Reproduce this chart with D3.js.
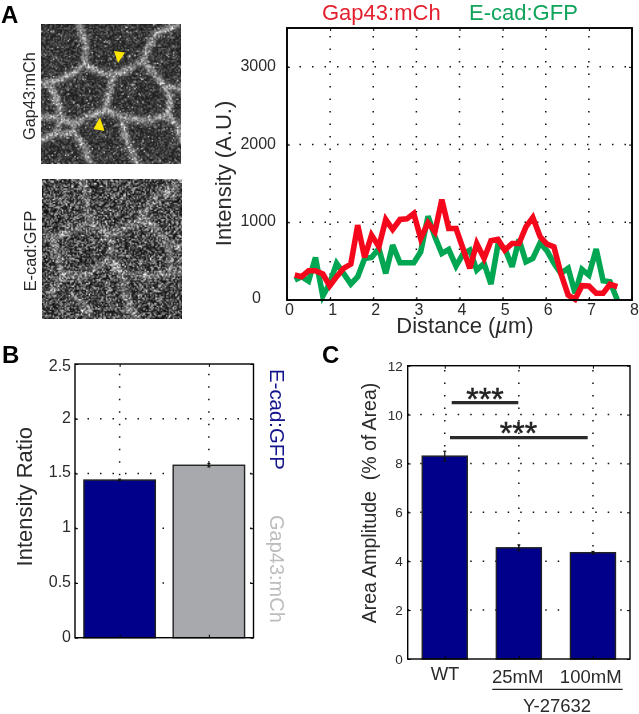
<!DOCTYPE html>
<html><head><meta charset="utf-8">
<script src="https://cdn.jsdelivr.net/npm/d3@7"></script>
<style>
html,body{margin:0;padding:0;background:#fff;overflow:hidden}
#stage{position:relative;width:639px;height:714px}
canvas{position:absolute}
svg{position:absolute;left:0;top:0;filter:blur(0.3px)}
text{font-family:"Liberation Sans",Arial,sans-serif;fill:#2b2b2b}
</style></head><body><div id="stage"></div>
<script>
// ---- Panel A values
const distance=[0.18,0.34,0.50,0.66,0.83,0.99,1.15,1.31,1.48,1.64,1.80,1.96,2.13,2.29,2.45,2.62,2.78,2.94,3.10,3.27,3.43,3.59,3.75,3.92,4.08,4.24,4.40,4.57,4.73,4.89,5.05,5.22,5.38,5.54,5.70,5.87,6.03,6.19,6.35,6.52,6.68,6.84,7.00,7.17,7.33,7.49,7.66];
const gap43=[321,300,377,377,334,180,300,407,462,963,548,835,685,1036,907,1036,1044,1113,792,993,877,1292,920,920,663,407,727,535,762,779,642,727,727,941,1061,813,719,685,342,64,10,184,180,86,86,201,171];
const ecad=[257,300,244,548,51,214,471,342,205,300,535,548,663,342,706,479,479,479,620,1078,813,599,650,436,590,642,385,471,205,706,663,428,779,492,535,736,633,471,342,407,86,394,321,655,248,235,0];
const aXTicks=[0,1,2,3,4,5,6,7,8];
const aYTicks=[0,1000,2000,3000];
// ---- Panel B values
const ratioNames=["E-cad:GFP","Gap43:mCh"];
const ratioValues=[1.44,1.575];
const ratioErrors=[0.008,0.015];
const bYTicks=[0,0.5,1,1.5,2,2.5];
// ---- Panel C values
const doseNames=["WT","25mM","100mM"];
const amplitude=[8.3,4.55,4.35];
const amplitudeErr=[0.2,0.12,0.05];
const cYTicks=[0,2,4,6,8,10,12];
// ---- Micrograph outlines (crop coordinates)
const edgesTop=[
 [[130,15],[150,70],[150,130],[125,150],[70,180],[20,188]],
 [[150,135],[190,155],[230,165]],
 [[360,40],[335,85],[320,122],[270,150],[235,165],[215,235],[210,270],[150,290],[115,310],[60,290],[20,290]],
 [[210,270],[260,290],[330,300],[395,285],[405,235],[385,195],[320,122]],
 [[385,195],[437,210]],[[395,285],[420,310],[437,360]],
 [[40,190],[65,240],[80,290],[60,340],[20,355]],
 [[115,310],[115,335],[80,340]],[[115,330],[150,390],[165,430]],
 [[260,290],[265,340],[305,430]],[[360,40],[420,15]]];
const edgesBottom=[
 [[145,15],[155,90],[165,140],[130,160],[80,175],[22,190]],
 [[165,145],[210,170],[230,200],[225,240],[200,265]],
 [[350,70],[320,125],[270,160],[220,175]],
 [[320,125],[365,165],[395,205],[440,220]],
 [[200,265],[150,300],[80,300]],
 [[230,255],[260,295],[330,300],[400,295],[440,285]],
 [[400,295],[405,250],[395,205]],
 [[50,190],[70,255],[80,300],[50,350]],
 [[260,295],[265,340],[300,430]],
 [[110,360],[150,390],[170,430]],
 [[350,70],[440,20]]];

const stage=d3.select("#stage");
function micrograph(left,top,size,edges,opt){
  const N=105,off=document.createElement("canvas");off.width=off.height=N;
  const c=off.getContext("2d"),img=c.createImageData(N,N);
  let s=opt.seed;const rnd=()=>{s=(s*1664525+1013904223)>>>0;return ((s>>>8)&0xffff)/65535;};
  const segs=[];edges.forEach(l=>d3.pairs(l).forEach(p=>segs.push(p)));
  for(let j=0;j<N;j++)for(let i=0;i<N;i++){
    let dmin=1e9;
    segs.forEach(([a,b])=>{
      const ax=(a[0]-opt.ox)/419*N,ay=(a[1]-13)/419*N,bx=(b[0]-opt.ox)/419*N,by=(b[1]-13)/419*N;
      const dx=bx-ax,dy=by-ay;let t=((i-ax)*dx+(j-ay)*dy)/(dx*dx+dy*dy);t=Math.max(0,Math.min(1,t));
      const d=Math.hypot(i-ax-t*dx,j-ay-t*dy);if(d<dmin)dmin=d;});
    const n=rnd(),n2=rnd();
    let v=opt.base+opt.amp*n*n+opt.spark*(n2>0.965?1:0);
    v+=opt.edge*Math.exp(-dmin*dmin/(2*opt.sigma*opt.sigma))*(0.35+1.1*rnd());
    v=Math.min(255,v);const k=(i+j*N)*4;
    img.data[k]=img.data[k+1]=img.data[k+2]=v;img.data[k+3]=255;
  }
  c.putImageData(img,0,0);
  const cv=stage.append("canvas").attr("width",size).attr("height",size)
    .style("left",left+"px").style("top",top+"px").node();
  const g=cv.getContext("2d");g.imageSmoothingEnabled=true;g.drawImage(off,0,0,size,size);
}
micrograph(41,24,140,edgesTop,{seed:7,base:30,amp:85,spark:120,edge:105,sigma:1.9,ox:18});
micrograph(42,179,140,edgesBottom,{seed:91,base:16,amp:175,spark:120,edge:62,sigma:2.1,ox:22});

const svg=stage.append("svg").attr("width",639).attr("height",714);
const txt=(x,y,s,size,o={})=>{const t=svg.append("text").attr("transform",`translate(${x},${y}) rotate(${o.rot||0})`)
  .attr("text-anchor",o.anchor||"middle").style("font-size",size+"px").text(s);
  if(o.fill)t.style("fill",o.fill);if(o.weight)t.style("font-weight",o.weight);return t;};

// yellow arrowheads on the top micrograph
svg.selectAll("polygon.arrow").data([[[114,51],[125,52.5],[118,63]],[[100,117.5],[104.5,131],[93.5,129]]])
  .join("polygon").attr("points",d=>d.join(" ")).attr("fill","#ffe600");

txt(1,23,"A",24,{anchor:"start",weight:"bold",fill:"#000"});
txt(2,363,"B",24,{anchor:"start",weight:"bold",fill:"#000"});
txt(322,363,"C",24,{anchor:"start",weight:"bold",fill:"#000"});
txt(35,96,"Gap43:mCh",16.3,{rot:-90});
txt(36,251,"E-cad:GFP",16.3,{rot:-90});

function frame(x,y,o){
  const [l,r]=x.range(),[b,t]=y.range();
  const grid=svg.append("g");
  grid.selectAll("line.v").data(o.xTicks.filter(d=>x(d)>l+1&&x(d)<r-1)).join("line")
    .attr("x1",d=>x(d)).attr("x2",d=>x(d)).attr("y1",b).attr("y2",t)
    .attr("stroke","#111").attr("stroke-width",o.dot).attr("stroke-dasharray",`${o.dot} ${o.vgap-o.dot}`);
  grid.selectAll("line.h").data(o.yTicks.filter(d=>y(d)<b-1&&y(d)>t+1)).join("line")
    .attr("y1",d=>y(d)).attr("y2",d=>y(d)).attr("x1",l).attr("x2",r)
    .attr("stroke","#111").attr("stroke-width",o.dot).attr("stroke-dasharray",`${o.dot} ${o.hgap-o.dot}`);
}
function box(x,y,o){
  const [l,r]=x.range(),[b,t]=y.range();
  const tk=3;
  const mk=(gen,dx,dy)=>{const g=svg.append("g").attr("transform",`translate(${dx},${dy})`).call(gen);
    g.selectAll("text").remove();g.select(".domain").remove();
    g.selectAll("line").attr("stroke","#000").attr("stroke-width",1);};
  mk(d3.axisLeft(y).tickValues(o.yTicks).tickFormat("").tickSizeOuter(0).tickSizeInner(-tk),l,0);
  mk(d3.axisRight(y).tickValues(o.yTicks).tickFormat("").tickSizeOuter(0).tickSizeInner(-tk),r,0);
  mk(d3.axisBottom(x).tickValues(o.xTicks).tickFormat("").tickSizeOuter(0).tickSizeInner(-tk),0,b);
  mk(d3.axisTop(x).tickValues(o.xTicks).tickFormat("").tickSizeOuter(0).tickSizeInner(-tk),0,t);
  svg.append("rect").attr("x",l).attr("y",t).attr("width",r-l).attr("height",b-t)
    .attr("fill","none").attr("stroke","#000").attr("stroke-width",o.w);
}

// ---------- Panel A
const xA=d3.scaleLinear().domain([0,8]).range([287,632]);
const yA=d3.scaleLinear().domain([0,3500]).range([300,28]);
frame(xA,yA,{xTicks:aXTicks,yTicks:aYTicks,dot:1.5,vgap:12.5,hgap:12.5});
const lineA=v=>d3.line().x((d,i)=>xA(distance[i])).y(d=>yA(d))(v);
[[ecad,"#00a651"],[gap43,"#f5081c"]].forEach(([v,c])=>svg.append("path").attr("d",lineA(v))
  .attr("fill","none").attr("stroke",c).attr("stroke-width",5.6).attr("stroke-linejoin","miter").attr("stroke-miterlimit",3));
box(xA,yA,{xTicks:aXTicks,yTicks:aYTicks,w:1.9});
aYTicks.forEach(d=>txt(d?276:261,yA(d)+(d?4:3),d,16,{anchor:"end"}));
aXTicks.forEach(d=>txt(xA(d)+2.5,315,d,16));
txt(231,173.5,"Intensity (A.U.)",22,{rot:-90});
const dist=txt(465,333,"Distance (",22);
dist.append("tspan").style("font-style","italic").text("µ");dist.append("tspan").text("m)");
txt(322,20,"Gap43:mCh",22,{anchor:"start",fill:"#e5202e"});
txt(469,20,"E-cad:GFP",22,{anchor:"start",fill:"#0ea45a"});

// ---------- bars
function bars(x,y,vals,errs,colors,bw,sw){
  const g=svg.append("g");
  g.selectAll("rect").data(vals).join("rect")
    .attr("x",(d,i)=>x(i+1)-bw/2).attr("width",bw)
    .attr("y",d=>y(d)).attr("height",d=>y(0)-y(d))
    .attr("fill",(d,i)=>colors[i]).attr("stroke","#222").attr("stroke-width",sw);
  const e=svg.append("g").attr("stroke","#111").attr("stroke-width",1.2);
  vals.forEach((d,i)=>{const c=x(i+1);
    e.append("line").attr("x1",c).attr("x2",c).attr("y1",y(d+errs[i])).attr("y2",y(d-errs[i]));
    e.append("line").attr("x1",c-1.5).attr("x2",c+1.5).attr("y1",y(d+errs[i])).attr("y2",y(d+errs[i]));
    e.append("line").attr("x1",c-1.5).attr("x2",c+1.5).attr("y1",y(d-errs[i])).attr("y2",y(d-errs[i]));});
}
// ---------- Panel B
const xB=d3.scaleLinear().domain([0.5,2.5]).range([75,253.5]);
const yB=d3.scaleLinear().domain([0,2.5]).range([637.7,364]);
frame(xB,yB,{xTicks:[1,2],yTicks:bYTicks,dot:1.5,vgap:12.5,hgap:12.5});
bars(xB,yB,ratioValues,ratioErrors,["#00008b","#a7a9ac"],71.4,1.4);
box(xB,yB,{xTicks:[1,2],yTicks:bYTicks,w:1.4});
bYTicks.forEach(d=>txt(71,yB(d)+(d===2.5?6.5:4),d,16,{anchor:"end"}));
txt(32,496.7,"Intensity Ratio",22,{rot:-90});
txt(270,369,ratioNames[0],20.4,{rot:90,anchor:"start",fill:"#14148c"});
txt(270,515,ratioNames[1],20,{rot:90,anchor:"start",fill:"#bcbdbf"});

// ---------- Panel C
const xC=d3.scaleLinear().domain([0.5,3.5]).range([407.7,630]);
const yC=d3.scaleLinear().domain([0,12]).range([659,365.7]);
frame(xC,yC,{xTicks:[1,2,3],yTicks:cYTicks,dot:1.5,vgap:12.5,hgap:12.5});
bars(xC,yC,amplitude,amplitudeErr,["#00008b","#00008b","#00008b"],45,1.4);
box(xC,yC,{xTicks:[1,2,3],yTicks:cYTicks,w:1.4});
cYTicks.forEach(d=>txt(402.7,yC(d)+5,d,13.5,{anchor:"end"}));
txt(376,503,"Area Amplitude  (% of Area)",19.5,{rot:-90}).style("white-space","pre");
txt(445,680,doseNames[0],18.5);
txt(517.7,682.7,doseNames[1],18.5);
txt(590.7,682.7,doseNames[2],18.5);
txt(557,711.5,"Y-27632",18.5);
svg.append("line").attr("x1",492.3).attr("x2",622.7).attr("y1",689.3).attr("y2",689.3).attr("stroke","#222").attr("stroke-width",1.3);
[[451.7,518.3,402.7],[450,587.7,437.7]].forEach(([a,b,c])=>svg.append("line").attr("x1",a).attr("x2",b).attr("y1",c).attr("y2",c).attr("stroke","#2a2a2a").attr("stroke-width",3.2));
[[485,410],[518.5,444]].forEach(([a,b])=>txt(a,b,"***",32,{fill:"#222"}).style("stroke","#222").style("stroke-width",0.5));
</script></body></html>
